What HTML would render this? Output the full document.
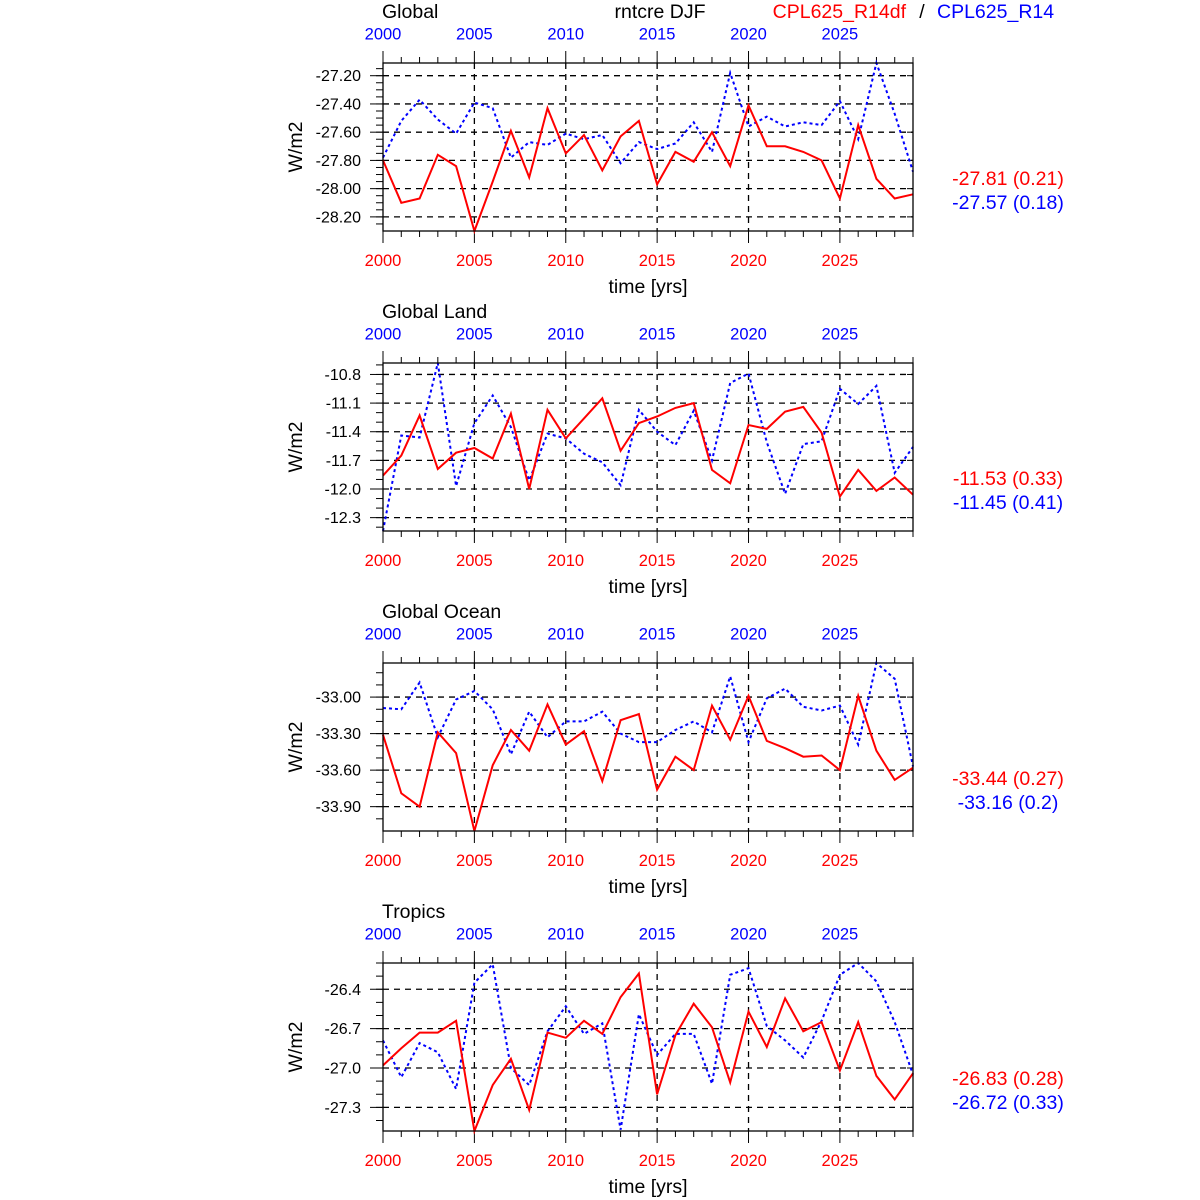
<!DOCTYPE html>
<html><head><meta charset="utf-8">
<style>
html,body{margin:0;padding:0;background:#fff;}
svg{display:block;font-family:"Liberation Sans",sans-serif;}
</style></head>
<body>
<svg id="chart" width="1200" height="1200" viewBox="0 0 1200 1200" xmlns="http://www.w3.org/2000/svg">
<text x="660" y="18" font-size="19.5" text-anchor="middle">rntcre DJF</text>
<text x="906" y="18" font-size="19.5" fill="#f00" text-anchor="end">CPL625_R14df</text>
<text x="922" y="18" font-size="19.5" text-anchor="middle">/</text>
<text x="937" y="18" font-size="19.5" fill="#00f">CPL625_R14</text>
</svg>
<script>
const years = [];
for (let y = 2000; y <= 2029; y++) years.push(y);
const xTickYears = [2000, 2005, 2010, 2015, 2020, 2025];
const panelTitles = ["Global", "Global Land", "Global Ocean", "Tropics"];
const yTicksGlobal = [-27.2, -27.4, -27.6, -27.8, -28.0, -28.2];
const yTicksLand = [-10.8, -11.1, -11.4, -11.7, -12.0, -12.3];
const yTicksOcean = [-33.0, -33.3, -33.6, -33.9];
const yTicksTropics = [-26.4, -26.7, -27.0, -27.3];
const yTickDecimals = [2, 1, 2, 1];
const yMinorStep = [0.05, 0.1, 0.1, 0.1];
const redGlobal = [-27.80,-28.10,-28.07,-27.76,-27.84,-28.30,-27.95,-27.59,-27.92,-27.43,-27.75,-27.62,-27.87,-27.63,-27.52,-27.97,-27.74,-27.81,-27.60,-27.84,-27.41,-27.70,-27.70,-27.74,-27.80,-28.07,-27.55,-27.93,-28.07,-28.04];
const blueGlobal = [-27.78,-27.52,-27.37,-27.51,-27.61,-27.39,-27.43,-27.78,-27.67,-27.69,-27.61,-27.65,-27.62,-27.82,-27.67,-27.72,-27.68,-27.53,-27.74,-27.18,-27.56,-27.49,-27.56,-27.53,-27.55,-27.38,-27.65,-27.11,-27.47,-27.88];
const redLand = [-11.86,-11.65,-11.23,-11.79,-11.62,-11.57,-11.68,-11.21,-12.00,-11.17,-11.47,-11.26,-11.05,-11.60,-11.31,-11.24,-11.15,-11.10,-11.80,-11.94,-11.33,-11.37,-11.19,-11.14,-11.41,-12.08,-11.80,-12.02,-11.88,-12.06];
const blueLand = [-12.44,-11.44,-11.46,-10.68,-11.97,-11.31,-11.02,-11.35,-11.91,-11.42,-11.47,-11.63,-11.72,-11.96,-11.17,-11.40,-11.54,-11.18,-11.70,-10.89,-10.79,-11.51,-12.05,-11.53,-11.50,-10.95,-11.11,-10.92,-11.83,-11.56];
const redOcean = [-33.31,-33.79,-33.90,-33.29,-33.46,-34.10,-33.56,-33.27,-33.44,-33.06,-33.39,-33.28,-33.69,-33.19,-33.14,-33.76,-33.49,-33.60,-33.07,-33.35,-32.99,-33.36,-33.42,-33.49,-33.48,-33.60,-32.99,-33.44,-33.68,-33.58];
const blueOcean = [-33.09,-33.10,-32.88,-33.33,-33.02,-32.95,-33.10,-33.47,-33.12,-33.33,-33.20,-33.20,-33.12,-33.30,-33.37,-33.37,-33.27,-33.20,-33.29,-32.83,-33.37,-33.01,-32.93,-33.08,-33.11,-33.07,-33.39,-32.72,-32.85,-33.57];
const redTropics = [-26.98,-26.85,-26.73,-26.73,-26.64,-27.48,-27.13,-26.93,-27.32,-26.73,-26.77,-26.64,-26.74,-26.46,-26.28,-27.20,-26.75,-26.51,-26.69,-27.11,-26.57,-26.84,-26.47,-26.72,-26.65,-27.02,-26.65,-27.06,-27.24,-27.04];
const blueTropics = [-26.79,-27.07,-26.81,-26.88,-27.16,-26.35,-26.21,-27.00,-27.13,-26.72,-26.53,-26.74,-26.66,-27.47,-26.59,-26.90,-26.74,-26.74,-27.12,-26.29,-26.24,-26.68,-26.79,-26.92,-26.64,-26.29,-26.20,-26.34,-26.65,-27.05];
const statsRed = ["-27.81 (0.21)", "-11.53 (0.33)", "-33.44 (0.27)", "-26.83 (0.28)"];
const statsBlue = ["-27.57 (0.18)", "-11.45 (0.41)", "-33.16 (0.2)", "-26.72 (0.33)"];

const redSeries = [redGlobal, redLand, redOcean, redTropics];
const blueSeries = [blueGlobal, blueLand, blueOcean, blueTropics];
const yTickSets = [yTicksGlobal, yTicksLand, yTicksOcean, yTicksTropics];

const NS = "http://www.w3.org/2000/svg";
const svg = document.getElementById("chart");
function mk(tag, attrs, parent) {
  const e = document.createElementNS(NS, tag);
  for (const k in attrs) e.setAttribute(k, attrs[k]);
  (parent || svg).appendChild(e);
  return e;
}
const X0 = 383, X1 = 913, H = 168;
const xMin = years[0], xMax = years[years.length - 1];
function xScale(yr) { return X0 + (yr - xMin) / (xMax - xMin) * (X1 - X0); }

for (let p = 0; p < 4; p++) {
  const top = 63 + p * 300, bot = top + H;
  const red = redSeries[p], blue = blueSeries[p];
  const all = red.concat(blue);
  const vMax = Math.max(...all), vMin = Math.min(...all);
  const yScale = v => top + (vMax - v) / (vMax - vMin) * H;
  const g = mk("g", {});
  
  

  const t = mk("text", {x: 382, y: top - 45, "font-size": 19.5}, g);
  t.textContent = panelTitles[p];
  
  

  const ticks = yTickSets[p];
  ticks.forEach(v => {
    const yy = yScale(v);
    const l = mk("line", {x1: X0, x2: X1, y1: yy, y2: yy, stroke: "#000", "stroke-width": 1.3, "stroke-dasharray": "6,5"}, g);
    
    
    const tk = mk("line", {x1: X0 - 13, x2: X0, y1: yy, y2: yy, stroke: "#000", "stroke-width": 1}, g);
    
    
    const rt = mk("line", {x1: X1 - 6, x2: X1, y1: yy, y2: yy, stroke: "#000", "stroke-width": 1}, g);
    
    
    const lb = mk("text", {x: 361, y: yy + 5.5, "font-size": 16, "text-anchor": "end"}, g);
    lb.textContent = v.toFixed(yTickDecimals[p]);
    
    
  });
  const step = yMinorStep[p];
  for (let v = ticks[0] + 2 * step; v >= vMin; v -= step) {
    if (v > vMax) continue;
    const yy = yScale(v);
    const mt = mk("line", {x1: X0 - 7, x2: X0, y1: yy, y2: yy, stroke: "#000", "stroke-width": 1}, g);
    
    
  }
  years.forEach(yr => {
    const xx = xScale(yr);
    const major = xTickYears.includes(yr);
    const len = major ? 12 : 6;
    const a = mk("line", {x1: xx, x2: xx, y1: top - len, y2: top, stroke: "#000", "stroke-width": 1}, g);
    
    
    const b = mk("line", {x1: xx, x2: xx, y1: bot, y2: bot + len, stroke: "#000", "stroke-width": 1}, g);
    
    
  });
  xTickYears.forEach(yr => {
    const xx = xScale(yr);
    if (yr !== xMin) {
      const l = mk("line", {x1: xx, x2: xx, y1: top, y2: bot, stroke: "#000", "stroke-width": 1.3, "stroke-dasharray": "6,5"}, g);
      
      
    }
    const tl = mk("text", {x: xx, y: top - 23.5, "font-size": 16.5, fill: "#00f", "text-anchor": "middle"}, g);
    tl.textContent = yr;
    
    
    const bl = mk("text", {x: xx, y: bot + 35, "font-size": 16.5, fill: "#f00", "text-anchor": "middle"}, g);
    bl.textContent = yr;
    
    
  });
  const ptsB = blue.map((v, i) => xScale(years[i]).toFixed(1) + "," + yScale(v).toFixed(1)).join(" ");
  const pb = mk("polyline", {points: ptsB, fill: "none", stroke: "#00f", "stroke-width": 2, "stroke-dasharray": "3,3"}, g);
  
  
  const ptsR = red.map((v, i) => xScale(years[i]).toFixed(1) + "," + yScale(v).toFixed(1)).join(" ");
  const pr = mk("polyline", {points: ptsR, fill: "none", stroke: "#f00", "stroke-width": 2}, g);
  
  
  const fr = mk("rect", {x: X0, y: top, width: X1 - X0, height: H, fill: "none", stroke: "#000", "stroke-width": 1.3}, g);
  
  
  const xt = mk("text", {x: 648, y: bot + 62, "font-size": 19.5, "text-anchor": "middle"}, g);
  xt.textContent = "time [yrs]";
  
  
  const cy = top + H / 2;
  const yt = mk("text", {x: 302, y: cy, "font-size": 19.5, "text-anchor": "middle", transform: "rotate(-90 302 " + cy + ")"}, g);
  yt.textContent = "W/m2";
  
  
  const sr = mk("text", {x: 1008, y: top + 122, "font-size": 19.5, fill: "#f00", "text-anchor": "middle"}, g);
  sr.textContent = statsRed[p];
  
  
  const sb = mk("text", {x: 1008, y: top + 146, "font-size": 19.5, fill: "#00f", "text-anchor": "middle"}, g);
  sb.textContent = statsBlue[p];
  
  
}
</script>
</body></html>
